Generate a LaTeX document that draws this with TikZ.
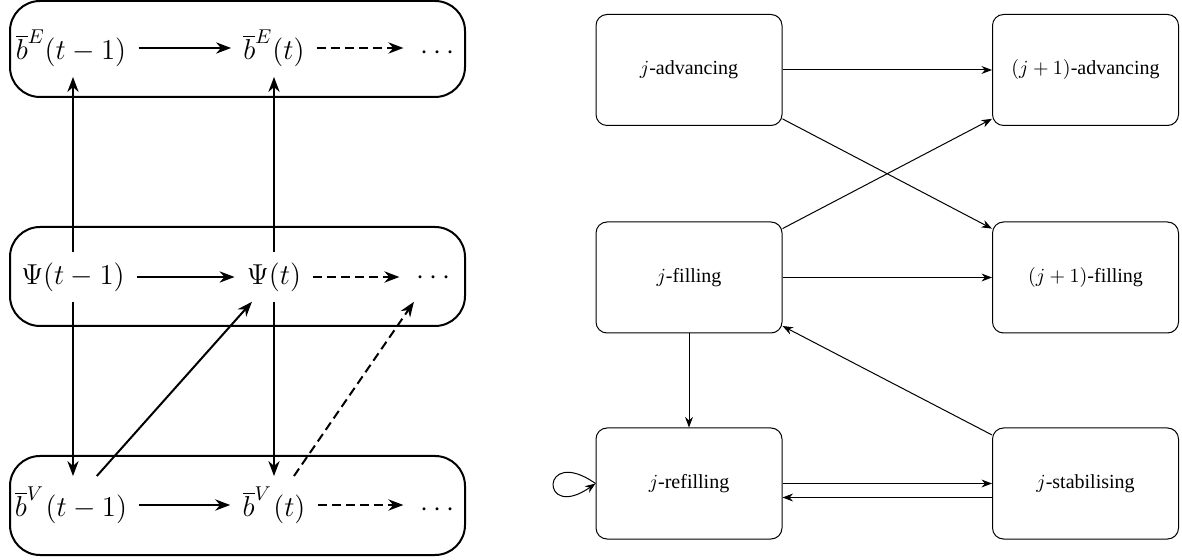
\documentclass[tikz,border=0pt]{standalone}
\usepackage{fontspec}
\newfontfamily\tms{Liberation Serif}
\usetikzlibrary{arrows.meta}
\begin{document}
\begin{tikzpicture}[x=0.5pt,y=-0.5pt,
  lnode/.style={inner xsep=6pt, inner ysep=5pt, font=\fontsize{14.8}{18}\selectfont},
  rowbox/.style={draw, line width=1pt, rounded corners=15pt, minimum width=227.5pt, inner sep=0pt},
  larr/.style={line width=1pt, -{Stealth}},
  ldash/.style={larr, dash pattern=on 4.5pt off 2.5pt},
  sbox/.style={draw, line width=0.5pt, rounded corners=5.5pt, minimum width=93pt, minimum height=55.5pt, font=\tms, inner sep=0pt},
  rarr/.style={line width=0.5pt, -{Stealth}}]
\useasboundingbox (0,0) rectangle (1182,560);

% left panel: row boxes
\node[rowbox, minimum height=48pt] (boxE) at (237.5,49) {};
\node[rowbox, minimum height=49.5pt] (boxP) at (237.5,276.5) {};
\node[rowbox, minimum height=49.5pt] (boxV) at (237.5,505.5) {};

% left panel: nodes
\node[lnode] (bE1) at (71,48) {$\overline{b}^{E}(t-1)$};
\node[lnode] (bE2) at (274,48) {$\overline{b}^{E}(t)$};
\node[lnode] (dE) at (435,48) {$\vphantom{\overline{b}^{E}(t)}\cdots$};
\node[lnode] (p1) at (73,277) {$\Psi(t-1)$};
\node[lnode] (p2) at (274,277) {$\Psi(t)$};
\node[lnode] (dP) at (431,277) {$\vphantom{\Psi(t)}\cdots$};
\node[lnode] (bV1) at (71,505) {$\overline{b}^{V}\mkern1mu(t-1)$};
\node[lnode] (bV2) at (274,505) {$\overline{b}^{V}\mkern1mu(t)$};
\node[lnode] (dV) at (435,505) {$\vphantom{\overline{b}^{V}(t)}\cdots$};

% left panel: connectors
\draw[larr] (bE1) -- (bE2);
\draw[ldash] (bE2) -- (dE);
\draw[larr] (p1) -- (p2);
\draw[ldash] (p2) -- (dP);
\draw[larr] (bV1) -- (bV2);
\draw[ldash] (bV2) -- (dV);
\draw[larr] (p1.north) -- (p1.north |- bE1.south);
\draw[larr] (p2) -- (bE2);
\draw[larr] (p1.south) -- (p1.south |- bV1.north);
\draw[larr] (p2) -- (bV2);
\draw[larr] (bV1) -- (p2);
\draw[ldash] (bV2) -- (dP);

% right panel: states
\node[sbox] (ja) at (689,70) {$j$-advancing};
\node[sbox] (j1a) at (1085.5,70) {$(j+1)$-advancing};
\node[sbox] (jf) at (689,277.5) {$j$-filling};
\node[sbox] (j1f) at (1085.5,277.5) {$(j+1)$-filling};
\node[sbox] (jr) at (689,483.5) {$j$-refilling};
\node[sbox] (js) at (1085.5,483.5) {$j$-stabilising};

% right panel: transitions
\draw[rarr] (ja) -- (j1a);
\draw[rarr] (ja) -- (j1f);
\draw[rarr] (jf) -- (j1a);
\draw[rarr] (jf) -- (j1f);
\draw[rarr] (jf) -- (jr);
\draw[rarr] (js) -- (jf);
\draw[rarr] (jr) -- (js);
\draw[rarr] ([yshift=-7pt]js.west) -- ([yshift=-7pt]jr.east);
\draw[rarr] (jr.west) .. controls +(145:34pt) and +(215:34pt) .. (jr.west);
\end{tikzpicture}
\end{document}
